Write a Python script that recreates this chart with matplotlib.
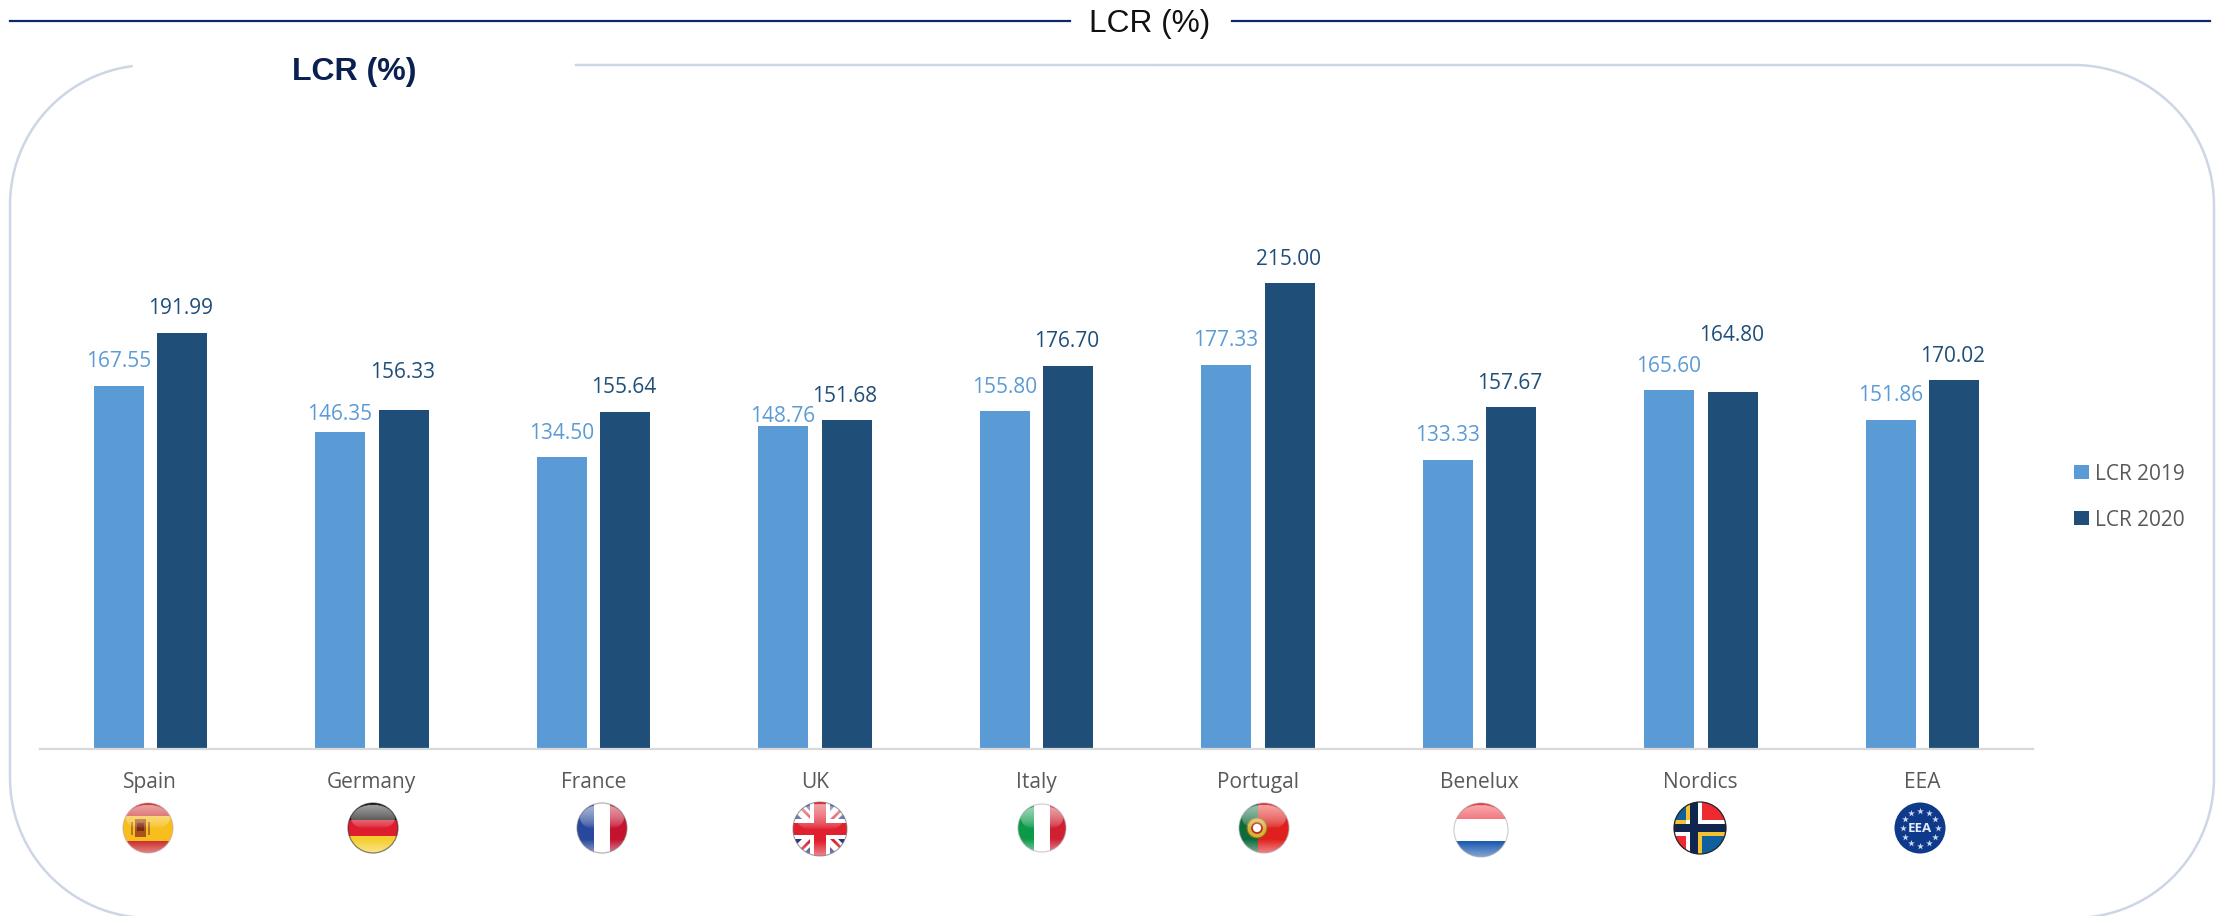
import matplotlib
matplotlib.use("Agg")
import matplotlib.pyplot as plt
import numpy as np
from matplotlib.patches import Circle, Rectangle, Polygon

W, H = 2216, 916

categories = ["Spain", "Germany", "France", "UK", "Italy", "Portugal", "Benelux", "Nordics", "EEA"]
lcr_2019 = [167.55, 146.35, 134.50, 148.76, 155.80, 177.33, 133.33, 165.60, 151.86]
lcr_2020 = [191.99, 156.33, 155.64, 151.68, 176.70, 215.00, 157.67, 164.80, 170.02]

BLUE_LIGHT = "#5B9BD5"
BLUE_DARK = "#1F4E79"
FRAME = "#CDD6E6"
NAVY = "#0B2A6B"
FONT = "Open Sans"

plt.rcParams["font.family"] = [FONT, "DejaVu Sans"]

fig = plt.figure(figsize=(W / 100, H / 100), dpi=100, facecolor="white")

# background layer in pixel coordinates: rules, frame, titles, flags
bg = fig.add_axes([0, 0, 1, 1])
bg.axis("off")

bg.plot([10, 1070], [21, 21], color=NAVY, lw=1.6)
bg.plot([1232, 2210], [21, 21], color=NAVY, lw=1.6)
bg.text(1150, 24, "LCR (%)", family="Liberation Sans", fontsize=22.8, color="#111111",
        ha="center", va="center")
bg.text(354, 72, "LCR (%)", family="Liberation Sans", fontsize=23, weight="bold", color="#0A2050",
        ha="center", va="center")

# rounded frame, open at the top where the title sits
L, R, T, B, rad = 10, 2214, 65, 918, 140
t = np.linspace(0, np.pi / 2, 60)
fx = np.concatenate([[576, R - rad], R - rad + rad * np.sin(t), R - rad + rad * np.cos(t),
                     L + rad - rad * np.sin(t), L + rad - rad * np.cos(t)])
fy = np.concatenate([[T, T], T + rad - rad * np.cos(t), B - rad + rad * np.sin(t),
                     B - rad + rad * np.cos(t), T + rad - rad * np.sin(t)])
keep = ~((fy < T + 2) & (fx < 576) & (fx > 134))
bg.plot(fx[keep], fy[keep], color=FRAME, lw=1.8)

# glossy overlay shared by the flags
yy, xx = np.mgrid[-1:1:80j, -1:1:80j]
shine = np.zeros((80, 80, 4))
shine[..., :3] = 1
upper = ((xx / 0.9) ** 2 + ((yy + 0.42) / 0.52) ** 2) < 1
shine[..., 3] = upper * 0.62 * np.clip(-yy, 0, 1) ** 0.6 + 0.45 * np.clip((yy - 0.45) / 0.55, 0, 1)


def add(patch, clip):
    bg.add_patch(patch)
    patch.set_clip_path(clip)
    return patch


def hbands(cx, cy, colors, sizes=None, r=25):
    clip = Circle((cx, cy), r, transform=bg.transData)
    sizes = sizes or [1 / len(colors)] * len(colors)
    y = cy - r
    for c, s in zip(colors, sizes):
        add(Rectangle((cx - r, y), 2 * r, 2 * r * s, fc=c, ec="none"), clip)
        y += 2 * r * s
    return clip


def vbands(cx, cy, colors, sizes=None, r=25):
    clip = Circle((cx, cy), r, transform=bg.transData)
    sizes = sizes or [1 / len(colors)] * len(colors)
    x = cx - r
    for c, s in zip(colors, sizes):
        add(Rectangle((x, cy - r), 2 * r * s, 2 * r, fc=c, ec="none"), clip)
        x += 2 * r * s
    return clip


def gloss(cx, cy, clip, r=25, rim="#777777"):
    im = bg.imshow(shine, extent=(cx - r, cx + r, cy + r, cy - r), aspect="auto", zorder=3,
                   interpolation="bilinear")
    im.set_clip_path(clip)
    bg.add_patch(Circle((cx, cy), r, fc="none", ec=rim, lw=0.9, alpha=0.55, zorder=4))


fy0 = 828
flag_x = [148, 373, 602, 820, 1042, 1264, 1481, 1700, 1920]

# Spain
cx = flag_x[0]
c = hbands(cx, fy0, ["#C8201E", "#F7BE1C", "#C8201E"], [0.25, 0.5, 0.25])
add(Rectangle((cx - 13, fy0 - 9), 11, 18, fc="#A8521E", ec="none"), c)
add(Rectangle((cx - 11, fy0 - 5), 7, 8, fc="#7A2A14", ec="none"), c)
add(Rectangle((cx - 17, fy0 - 6), 2, 13, fc="#B5762A", ec="none"), c)
add(Rectangle((cx, fy0 - 6), 2, 13, fc="#B5762A", ec="none"), c)
gloss(cx, fy0, c, rim="#C9A0A0")

# Germany
c = hbands(flag_x[1], fy0, ["#111111", "#DD1C2E", "#F4CE2E"])
gloss(flag_x[1], fy0, c, rim="#222222")

# France
c = vbands(flag_x[2], fy0, ["#27489C", "#FFFFFF", "#C4122F"])
gloss(flag_x[2], fy0, c)

# UK
cx, cy = flag_x[3], fy0 + 1
c = hbands(cx, cy, ["#27357E"], r=27)
for s in (1, -1):
    add(Polygon([(cx - 27, cy - s * 27), (cx - 19, cy - s * 27), (cx + 27, cy + s * 19),
                 (cx + 27, cy + s * 27), (cx + 19, cy + s * 27), (cx - 27, cy - s * 19)],
                fc="white", ec="none"), c)
    add(Polygon([(cx - 27, cy - s * 27), (cx + 27, cy + s * 27), (cx + 27, cy + s * 23),
                 (cx - 23, cy - s * 27)], fc="#D8202F", ec="none"), c)
add(Rectangle((cx - 10, cy - 27), 20, 54, fc="white", ec="none"), c)
add(Rectangle((cx - 27, cy - 10), 54, 20, fc="white", ec="none"), c)
add(Rectangle((cx - 6, cy - 27), 12, 54, fc="#E0202F", ec="none"), c)
add(Rectangle((cx - 27, cy - 6), 54, 12, fc="#E0202F", ec="none"), c)
gloss(cx, cy, c, r=27)

# Italy
c = vbands(flag_x[4], fy0, ["#0C9A4A", "#FFFFFF", "#D01F30"], r=24)
gloss(flag_x[4], fy0, c, r=24, rim="#AAAAAA")

# Portugal
cx = flag_x[5]
c = vbands(cx, fy0, ["#0B6B3A", "#E0201C"], [0.38, 0.62], r=25)
bg.add_patch(Circle((cx - 7, fy0), 10, fc="#D9B23A", ec="#8A6A12", lw=0.8, zorder=2))
bg.add_patch(Circle((cx - 7, fy0), 5, fc="white", ec="#B3261E", lw=1.2, zorder=2))
gloss(cx, fy0, c, rim="#AAAAAA")

# Benelux
c = hbands(flag_x[6], fy0 + 2, ["#EA2A35", "#FFFFFF", "#1F5CB0"], [0.3, 0.4, 0.3], r=27)
gloss(flag_x[6], fy0 + 2, c, r=27, rim="#AAAAAA")

# Nordics
cx = flag_x[7]
vx = cx - 6
c = Circle((cx, fy0), 26, transform=bg.transData)
add(Rectangle((cx - 26, fy0 - 26), vx - cx + 26, 26, fc="#11609E", ec="none"), c)
add(Rectangle((vx, fy0 - 26), cx + 26 - vx, 26, fc="#EE2A30", ec="none"), c)
add(Rectangle((cx - 26, fy0), vx - cx + 26, 26, fc="#EE2A30", ec="none"), c)
add(Rectangle((vx, fy0), cx + 26 - vx, 26, fc="#11609E", ec="none"), c)
add(Rectangle((vx - 8, fy0 - 26), 16, 52, fc="white", ec="none"), c)
add(Rectangle((cx - 26, fy0 - 8), 52, 16, fc="white", ec="none"), c)
add(Rectangle((vx - 8, fy0 - 26), 4, 18, fc="#F2C230", ec="none"), c)
add(Rectangle((cx - 26, fy0 - 8), vx - cx + 18, 4, fc="#F2C230", ec="none"), c)
add(Rectangle((vx + 4, fy0 + 4), 4, 22, fc="#F2C230", ec="none"), c)
add(Rectangle((vx + 4, fy0 + 4), 40, 4, fc="#F2C230", ec="none"), c)
add(Rectangle((vx - 4, fy0 - 26), 8, 52, fc="#10254F", ec="none"), c)
add(Rectangle((cx - 26, fy0 - 4), 52, 8, fc="#10254F", ec="none"), c)
bg.add_patch(Circle((cx, fy0), 26, fc="none", ec="#222222", lw=0.9))

# EEA
cx = flag_x[8]
bg.add_patch(Circle((cx, fy0), 25.5, fc="#0F3A8C", ec="none"))
angles = np.linspace(0, 2 * np.pi, 12, endpoint=False)
bg.scatter(cx + 17.5 * np.cos(angles), fy0 + 17.5 * np.sin(angles), marker="*", s=26, color="#CBD8F0", lw=0)
bg.text(cx, fy0 + 0.5, "EEA", fontsize=9.5, weight="bold", color="#E4ECF8", ha="center", va="center")

bg.set_xlim(0, W)
bg.set_ylim(H, 0)

# bars
x0, x1, base_y = 39.5, 2033, 748.7
px_per_unit = 2.166
top_y = 100
ax = fig.add_axes([x0 / W, 1 - base_y / H, (x1 - x0) / W, (base_y - top_y) / H])
ax.patch.set_alpha(0)

x = np.arange(len(categories))
bar_w = 50 / 221.5
shift = 31.75 / 221.5
bars19 = ax.bar(x - shift, lcr_2019, bar_w, color=BLUE_LIGHT, label="LCR 2019")
bars20 = ax.bar(x + shift, lcr_2020, bar_w, color=BLUE_DARK, label="LCR 2020")
ax.set_xlim(-0.5, len(categories) - 0.5)
ax.set_ylim(0, (base_y - top_y) / px_per_unit)

# label gap above each bar, px at full size
gap_19 = [24, 17, 24, 10, 24, 24, 24, 24, 24]
gap_20 = [24, 38, 24, 24, 24, 24, 24, 56, 24]
for rect, val, gap in zip(bars19, lcr_2019, gap_19):
    ax.annotate(f"{val:.2f}", (rect.get_x() + rect.get_width() / 2, val), xytext=(0, gap * 0.72),
                textcoords="offset points", ha="center", va="center", fontsize=15, color=BLUE_LIGHT,
                annotation_clip=False)
for rect, val, gap in zip(bars20, lcr_2020, gap_20):
    ax.annotate(f"{val:.2f}", (rect.get_x() + rect.get_width() / 2, val), xytext=(-1, gap * 0.72),
                textcoords="offset points", ha="center", va="center", fontsize=15, color=BLUE_DARK,
                annotation_clip=False)

for side in ("top", "right", "left"):
    ax.spines[side].set_visible(False)
ax.spines["bottom"].set_color("#D9D9D9")
ax.spines["bottom"].set_linewidth(1.6)
ax.set_yticks([])
ax.set_xticks(x)
ax.set_xticklabels(categories, fontsize=15, color="#595959")
ax.tick_params(axis="x", length=0, pad=16.5)

fig.legend(handles=[bars19, bars20], loc="center left", bbox_to_anchor=(2064 / W, 1 - 497 / H),
           frameon=False, fontsize=15, labelcolor="#595959", handlelength=0.68, handleheight=0.68,
           handletextpad=0.3, labelspacing=1.2, borderpad=0)

fig.savefig("out.png", dpi=100)
plt.close(fig)
